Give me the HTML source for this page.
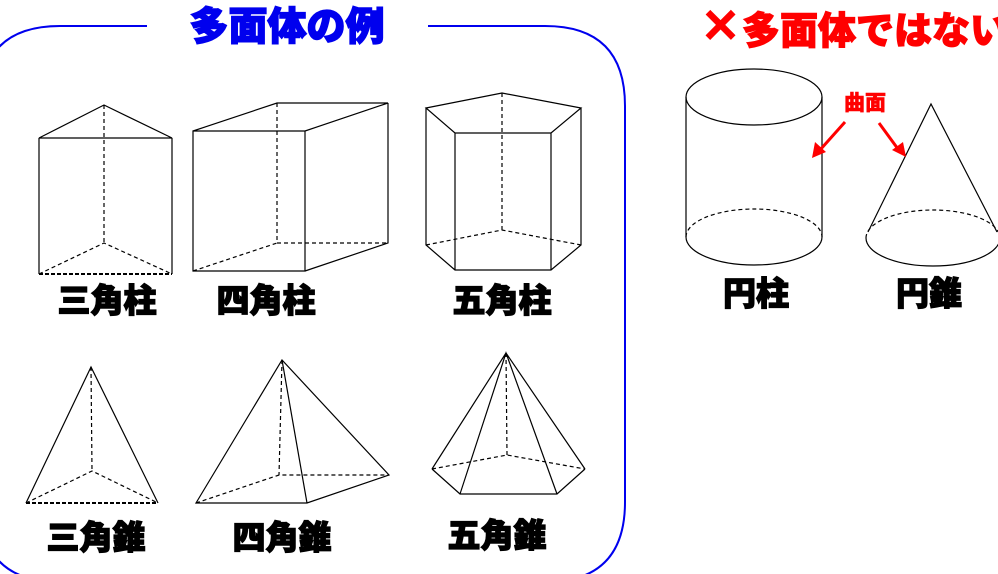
<!DOCTYPE html>
<html><head><meta charset="utf-8"><style>
html,body{margin:0;padding:0;background:#fff;width:998px;height:574px;overflow:hidden}
svg{display:block}
text{font-family:"Liberation Sans","Noto Sans CJK JP",sans-serif;font-weight:900}
</style></head><body>
<svg width="998" height="574" viewBox="0 0 998 574" xmlns="http://www.w3.org/2000/svg">
<path d="M147,26 L60,26 Q-20,26 -20,106 L-20,502 Q-20,582 60,582 L545,582 Q625,582 625,502 L625,106 Q625,26 545,26 L428,26" fill="none" stroke="#0000ee" stroke-width="2"/>
<text x="287" y="40" font-size="39" fill="#0000ee" text-anchor="middle" stroke="#0000ee" stroke-width="1.5">多面体の例</text>
<g fill="none" stroke="#000" stroke-width="1.2">
<path d="M39,138 L104,105 L172,138 Z M39,138 L39,274 M172,138 L172,274"/>
<path d="M104,105 L104,243 M39,274 L104,243 L172,274" stroke-dasharray="4,3"/>
<path d="M39,274 L172,274" stroke-dasharray="4,2" stroke-width="2"/>
<path d="M193,131 L305,131 L305,271 L193,271 Z M193,131 L277,103 L388,103 L305,131 M388,103 L388,243 L305,271"/>
<path d="M277,103 L277,243 L388,243 M193,271 L277,243" stroke-dasharray="4,3"/>
<path d="M426,108 L502,93 L581,108 L551,133 L455,133 Z M426,108 L426,245 L455,270 L551,270 L581,245 L581,108 M455,133 L455,270 M551,133 L551,270"/>
<path d="M502,93 L502,230 M426,245 L502,230 L581,245" stroke-dasharray="4,3"/>
<path d="M26,503 L91,367 L158,503"/>
<path d="M91,367 L92,471 M26,503 L92,471 L158,503" stroke-dasharray="4,3"/>
<path d="M26,503 L158,503" stroke-dasharray="4,2" stroke-width="2"/>
<path d="M196,503 L282,360 L389,475 L307,503 Z M282,360 L307,503"/>
<path d="M282,360 L279,475 M196,503 L279,475 L389,475" stroke-dasharray="4,3"/>
<path d="M432,469 L460,494 L557,494 L585,469 M432,469 L506,353 L585,469 M460,494 L506,353 L557,494"/>
<path d="M506,353 L507,455 M432,469 L507,455 L585,469" stroke-dasharray="4,3"/>
<ellipse cx="754" cy="97" rx="68" ry="28"/>
<path d="M686,97 L686,237 M822,97 L822,237 M686,237 A68,28 0 0 0 822,237"/>
<path d="M686,237 A68,28 0 0 1 822,237" stroke-dasharray="4,3"/>
<path d="M868,232 L931,104 L997,232 M866,238 A67,28 0 0 0 1000,238"/>
<path d="M866,238 A67,28 0 0 1 1000,238" stroke-dasharray="4,3"/>
</g>
<g stroke="#f00" stroke-width="3" fill="#f00">
<line x1="845" y1="122" x2="820" y2="150"/>
<line x1="879" y1="123" x2="898" y2="149"/>
</g>
<polygon points="812,158 815,142 826,152" fill="#f00"/>
<polygon points="906,157 892,150 903,142" fill="#f00"/>
<text x="865" y="110" font-size="21" fill="#f00" text-anchor="middle" stroke="#f00" stroke-width="0.5">曲面</text>
<text x="703" y="45" font-size="60" font-weight="400" fill="#f00">×</text>
<text x="742" y="44" font-size="38" fill="#f00" stroke="#f00" stroke-width="1.2">多面体ではない</text>
<g font-size="33" fill="#000" text-anchor="middle" stroke="#000" stroke-width="1.3">
<text x="107" y="312">三角柱</text>
<text x="266" y="312">四角柱</text>
<text x="502" y="312">五角柱</text>
<text x="96" y="549">三角錐</text>
<text x="282" y="549">四角錐</text>
<text x="497" y="547">五角錐</text>
<text x="756" y="305">円柱</text>
<text x="929" y="305">円錐</text>
</g>
</svg>
</body></html>
